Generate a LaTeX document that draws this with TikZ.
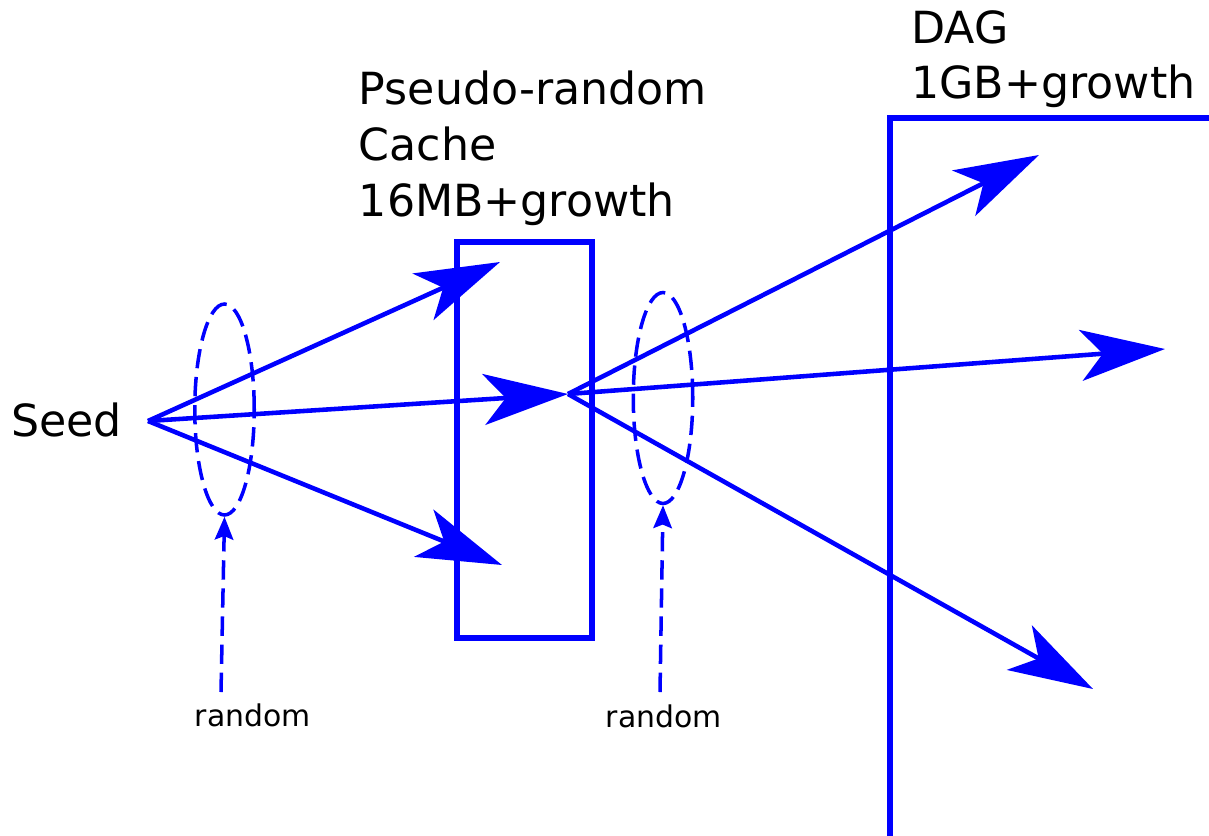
\documentclass[tikz,border=0pt]{standalone}
\usepackage{fontspec}
\setmainfont{DejaVu Sans}
\usetikzlibrary{arrows.meta,shapes.geometric}
\definecolor{diag}{RGB}{0,0,255}
\begin{document}
\begin{tikzpicture}[x=0.02cm,y=-0.02cm,
  bigtxt/.style={anchor=base west,inner sep=0pt,font=\fontsize{25.2pt}{31pt}\selectfont},
  smalltxt/.style={anchor=base west,inner sep=0pt,font=\fontsize{17pt}{20pt}\selectfont},
  flow/.style={draw=diag,line width=2.6pt,-{Stealth[length=48pt,width=29pt,inset=12.5pt]}},
  boxline/.style={draw=diag,line width=3.4pt},
  dashline/.style={draw=diag,line width=2pt,dash pattern=on 11pt off 5pt},
  dasharrow/.style={dashline,-{Stealth[length=13pt,width=10.5pt,inset=2pt]}},
  ring/.style={ellipse,dashline,inner sep=0pt,minimum width=1.19cm,minimum height=4.22cm}]
\useasboundingbox (0,0) rectangle (1209,835);
% boxes
\node[boxline,rectangle,inner sep=0pt,minimum width=2.7cm,minimum height=7.92cm] (cache) at (524.5,440) {};
\draw[boxline] (890,845) -- (890,118) -- (1220,118);
% ellipses
\node[ring] (e1) at (224.5,409.5) {};
\node[ring] (e2) at (663,398) {};
% points
\coordinate (s) at (148,421);
\coordinate (h) at (568,394);
\coordinate (t1) at (500,262);
\coordinate (t2) at (502,565);
\coordinate (d1) at (1039,155);
\coordinate (d2) at (1165,349);
\coordinate (d3) at (1093,689);
\coordinate (r1) at (221,692);
\coordinate (r2) at (660,692);
% flows
\draw[flow] (s) -- (t1);
\draw[flow] (s) -- (h);
\draw[flow] (s) -- (t2);
\draw[flow] (h) -- (d1);
\draw[flow] (h) -- (d2);
\draw[flow] (h) -- (d3);
% random arrows
\draw[dasharrow] (r1) -- (e1.south);
\draw[dasharrow] (r2) -- (e2.south);
% texts
\node[bigtxt] (seed) at (11,436) {Seed};
\node[bigtxt] (c1) at (358.5,104) {Pseudo-random};
\node[bigtxt] (c2) at (358.5,160.5) {Cache};
\node[bigtxt] (c3) at (358.5,216.5) {16MB+growth};
\node[bigtxt] (g1) at (911,43.5) {DAG};
\node[bigtxt] (g2) at (911,98.5) {1GB+growth};
\node[smalltxt] (rt1) at (194.5,726) {random};
\node[smalltxt] (rt2) at (605.5,727) {random};
\end{tikzpicture}
\end{document}
